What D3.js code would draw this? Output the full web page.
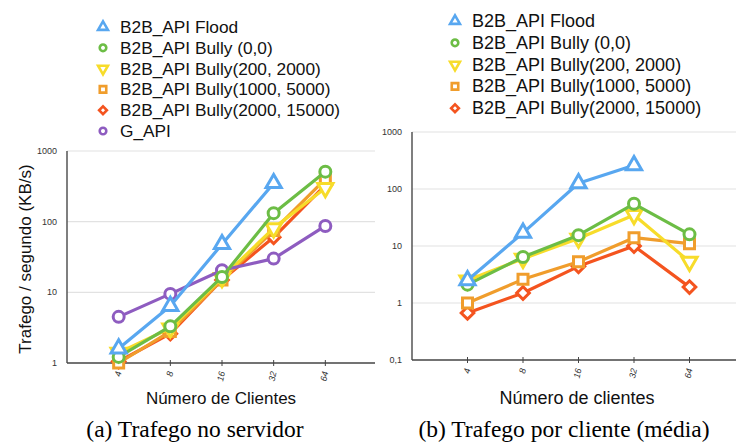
<!DOCTYPE html>
<html>
<head>
<meta charset="utf-8">
<script src="https://cdn.jsdelivr.net/npm/d3@7"></script>
<style>
  body { margin: 0; background: #fff; }
  svg { display: block; }
</style>
</head>
<body>
<div id="viz"></div>
<script>
// categories on the x axis (number of clients)
var clients = ["4", "8", "16", "32", "64"];

// series names
var seriesNames = ["B2B_API Flood", "B2B_API Bully (0,0)", "B2B_API Bully(200, 2000)",
  "B2B_API Bully(1000, 5000)", "B2B_API Bully(2000, 15000)", "G_API"];

// (a) traffic on the server, KB/s
var serverFlood    = [1.6, 6.4, 48, 350, null];
var serverBully00  = [1.22, 3.3, 16.5, 132, 510];
var serverBully200 = [1.4, 3.1, 16, 81, 300];
var serverBully1k  = [1.0, 2.8, 15, 75, 400];
var serverBully2k  = [1.05, 2.6, 15, 60, 330];
var serverGapi     = [4.5, 9.5, 20.5, 30, 87];

// (b) traffic per client (average), KB/s
var clientFlood    = [2.5, 17, 126, 260, null];
var clientBully00  = [2.1, 6.4, 15.5, 55, 16];
var clientBully200 = [2.5, 6, 13.5, 35, 5.3];
var clientBully1k  = [1.0, 2.6, 5.3, 14, 11];
var clientBully2k  = [0.67, 1.5, 4.4, 10, 1.9];

var ticksA = [1, 10, 100, 1000];
var ticksB = [0.1, 1, 10, 100, 1000];

var colors = ["#58a7f0", "#6cbd45", "#f7dc2a", "#f09d2c", "#f4541f", "#8e5cc0"];
var shapes = ["tri", "circle", "down", "square", "diamond", "circle"];

var svg = d3.select('#viz')
  .append('svg')
  .attr('width', 736)
  .attr('height', 442);

function markerPath(shape, s) {
  if (shape == "tri" || shape == "down") return d3.symbol(d3.symbolTriangle, s)();
  if (shape == "circle") return d3.symbol(d3.symbolCircle, s)();
  // square and diamond (diamond = square turned 45deg)
  return d3.symbol(d3.symbolSquare, s)();
}

function drawMarker(g, shape, color, cx, cy, s, sw) {
  var rot = shape == "down" ? " rotate(180)" : (shape == "diamond" ? " rotate(45)" : "");
  g.append("path")
    .attr("d", markerPath(shape, s))
    .attr("transform", "translate(" + cx + "," + cy + ")" + rot)
    .attr("fill", "#fff")
    .attr("stroke", color)
    .attr("stroke-width", sw);
}

function drawChart(cfg) {
  var g = svg.append("g");

  var x = d3.scalePoint()
    .domain(clients)
    .range([cfg.left, cfg.xEnd])
    .padding(1);

  var y = d3.scaleLog()
    .domain(cfg.domain)
    .range([cfg.bottom, cfg.top]);

  // gridlines
  g.append("g")
    .selectAll("line")
    .data(cfg.ticks.slice(1))
    .join("line")
    .attr("x1", cfg.left)
    .attr("x2", cfg.gridEnd)
    .attr("y1", d => y(d))
    .attr("y2", d => y(d))
    .attr("stroke", "#e2e2e2")
    .attr("stroke-width", 1.2);

  // y tick labels
  g.append("g")
    .selectAll("text")
    .data(cfg.ticks)
    .join("text")
    .attr("x", cfg.left - 10)
    .attr("y", d => y(d) + 3)
    .attr("text-anchor", "end")
    .attr("font-family", "Liberation Sans, Arial, sans-serif")
    .attr("font-size", 9)
    .attr("fill", "#333")
    .text(d => d < 1 ? "0,1" : d);

  // axes lines
  g.append("line")
    .attr("x1", cfg.left).attr("x2", cfg.left)
    .attr("y1", cfg.top).attr("y2", cfg.bottom)
    .attr("stroke", "#555").attr("stroke-width", 1.5);
  g.append("line")
    .attr("x1", cfg.left).attr("x2", cfg.gridEnd)
    .attr("y1", cfg.bottom).attr("y2", cfg.bottom)
    .attr("stroke", "#444").attr("stroke-width", 1.5);

  // x ticks
  g.append("g")
    .selectAll("line")
    .data(clients)
    .join("line")
    .attr("x1", d => x(d)).attr("x2", d => x(d))
    .attr("y1", cfg.bottom - 3).attr("y2", cfg.bottom + 3)
    .attr("stroke", "#444").attr("stroke-width", 1);

  g.append("g")
    .selectAll("text")
    .data(clients)
    .join("text")
    .attr("transform", d => "translate(" + (x(d) + 3) + "," + (cfg.bottom + 9) + ") rotate(-78)")
    .attr("text-anchor", "end")
    .attr("font-family", "Liberation Sans, Arial, sans-serif")
    .attr("font-size", 9)
    .attr("font-style", "italic")
    .attr("fill", "#333")
    .text(d => d);

  // series lines + markers
  var line = d3.line()
    .defined(d => d.v != null)
    .x(d => x(d.c))
    .y(d => y(d.v));

  cfg.order.forEach(function(i) {
    var pts = cfg.series[i].map((v, k) => ({c: clients[k], v: v}));
    g.append("path")
      .datum(pts)
      .attr("d", line)
      .attr("fill", "none")
      .attr("stroke", colors[i])
      .attr("stroke-width", 3.2)
      .attr("stroke-linejoin", "round");
    pts.filter(d => d.v != null).forEach(function(d) {
      var s = shapes[i] == "circle" ? 95 : (shapes[i] == "square" ? 100 : (shapes[i] == "diamond" ? 80 : 100));
      drawMarker(g, shapes[i], colors[i], x(d.c), y(d.v), s, 3);
    });
  });

  // legend
  cfg.series.forEach(function(s, i) {
    var ly = cfg.legendY + i * cfg.legendStep;
    var sz = shapes[i] == "circle" ? 34 : (shapes[i] == "diamond" ? 30 : 42);
    drawMarker(g, shapes[i], colors[i], cfg.legendX, ly, sz, 2.6);
    g.append("text")
      .attr("x", cfg.legendX + 17)
      .attr("y", ly + 6)
      .attr("font-family", "Liberation Sans, Arial, sans-serif")
      .attr("font-size", cfg.legendFont)
      .attr("fill", "#111")
      .text(seriesNames[i]);
  });

  // axis titles
  if (cfg.yTitle) {
    g.append("text")
      .attr("transform", "translate(" + 31 + "," + ((cfg.top + cfg.bottom) / 2 + 2) + ") rotate(-90)")
      .attr("text-anchor", "middle")
      .attr("font-family", "Liberation Sans, Arial, sans-serif")
      .attr("font-size", 17)
      .attr("fill", "#111")
      .text(cfg.yTitle);
  }
  g.append("text")
    .attr("x", cfg.xTitleX)
    .attr("y", 404)
    .attr("text-anchor", "middle")
    .attr("font-family", "Liberation Sans, Arial, sans-serif")
    .attr("font-size", cfg.titleFont)
    .attr("fill", "#111")
    .text(cfg.xTitle);

  // caption
  g.append("text")
    .attr("x", cfg.captionX)
    .attr("y", 437)
    .attr("text-anchor", "middle")
    .attr("font-family", "Liberation Serif, Times New Roman, serif")
    .attr("font-size", 23.5)
    .attr("fill", "#000")
    .text(cfg.caption);
}

drawChart({
  left: 67, xEnd: 377, gridEnd: 375, top: 151, bottom: 363,
  domain: [1, 1000], ticks: ticksA,
  series: [serverFlood, serverBully00, serverBully200, serverBully1k, serverBully2k, serverGapi],
  order: [4, 3, 2, 5, 1, 0],
  legendX: 103, legendY: 27, legendStep: 20.8, legendFont: 17.3,
  yTitle: "Trafego / segundo (KB/s)",
  xTitle: "Número de Clientes", xTitleX: 221, titleFont: 17,
  caption: "(a) Trafego no servidor", captionX: 195
});

drawChart({
  left: 412, xEnd: 745, gridEnd: 736, top: 132, bottom: 360,
  domain: [0.1, 1000], ticks: ticksB,
  series: [clientFlood, clientBully00, clientBully200, clientBully1k, clientBully2k],
  order: [4, 3, 2, 1, 0],
  legendX: 455, legendY: 21, legendStep: 21.8, legendFont: 18,
  yTitle: null,
  xTitle: "Número de clientes", xTitleX: 577, titleFont: 18,
  caption: "(b) Trafego por cliente (média)", captionX: 564
});
</script>
</body>
</html>
